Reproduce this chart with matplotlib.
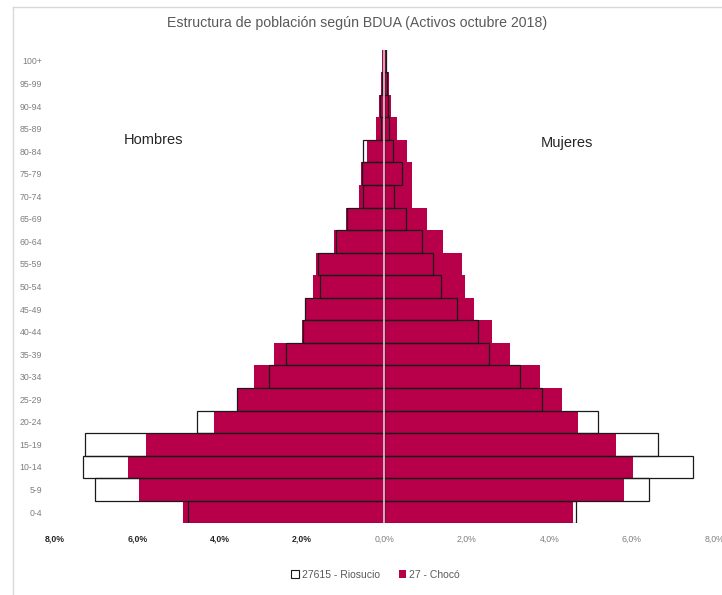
import numpy as np
import matplotlib
matplotlib.use('Agg')
import matplotlib.pyplot as plt
from matplotlib.patches import Patch
from matplotlib.lines import Line2D

plt.rcParams['font.family'] = ['Liberation Sans', 'DejaVu Sans']

# Datos (porcentaje de la poblacion)
grupos = ['0-4', '5-9', '10-14', '15-19', '20-24', '25-29', '30-34', '35-39', '40-44',
          '45-49', '50-54', '55-59', '60-64', '65-69', '70-74', '75-79', '80-84',
          '85-89', '90-94', '95-99', '100+']

choco_hombres = [4.89, 5.95, 6.22, 5.78, 4.13, 3.58, 3.16, 2.69, 2.01, 1.94, 1.73,
                 1.66, 1.23, 0.93, 0.61, 0.58, 0.43, 0.20, 0.13, 0.09, 0.06]
choco_mujeres = [4.58, 5.82, 6.03, 5.61, 4.69, 4.30, 3.77, 3.04, 2.60, 2.18, 1.95,
                 1.88, 1.42, 1.04, 0.66, 0.68, 0.55, 0.31, 0.15, 0.10, 0.06]
rio_hombres = [4.77, 7.02, 7.31, 7.26, 4.55, 3.59, 2.81, 2.40, 1.97, 1.92, 1.56,
               1.61, 1.18, 0.90, 0.53, 0.55, 0.53, 0.08, 0.11, 0.07, 0.04]
rio_mujeres = [4.65, 6.42, 7.49, 6.64, 5.19, 3.83, 3.30, 2.54, 2.26, 1.76, 1.37,
               1.17, 0.91, 0.52, 0.23, 0.42, 0.21, 0.10, 0.08, 0.06, 0.04]

ticks_x = [-8, -6, -4, -2, 0, 2, 4, 6, 8]
etiquetas_x = ['8,0%', '6,0%', '4,0%', '2,0%', '0,0%', '2,0%', '4,0%', '6,0%', '8,0%']

color_choco = '#B70049'
y = np.arange(len(grupos))

fig = plt.figure(figsize=(7.22, 5.95), dpi=100)
ax = fig.add_axes([0.076, 0.1205, 0.913, 0.796])

# Riosucio (fondo blanco)
ax.barh(y, -np.array(rio_hombres), height=1.0, color='white', edgecolor='none', zorder=1)
ax.barh(y, rio_mujeres, height=1.0, color='white', edgecolor='none', zorder=1)
# Choco
ax.barh(y, -np.array(choco_hombres), height=1.0, color=color_choco, edgecolor='none', zorder=2)
ax.barh(y, choco_mujeres, height=1.0, color=color_choco, edgecolor='none', zorder=2)
# Contorno de Riosucio encima
ax.barh(y, -np.array(rio_hombres), height=1.0, fill=False, edgecolor='#1a1a1a', linewidth=0.9, zorder=3)
ax.barh(y, rio_mujeres, height=1.0, fill=False, edgecolor='#1a1a1a', linewidth=0.9, zorder=3)

ax.axvline(0, color='#e6c8d4', linewidth=1.2, zorder=4)

ax.set_xlim(-8, 8)
ax.set_ylim(-0.5, len(grupos) - 0.5)
ax.set_xticks(ticks_x)
ax.set_xticklabels(etiquetas_x)
ax.set_yticks(y)
ax.set_yticklabels(grupos)
ax.tick_params(axis='both', length=0, labelsize=6.3, colors='#7f7f7f')
ax.tick_params(axis='x', pad=8)
ax.tick_params(axis='y', pad=9)
for i, lab in enumerate(ax.get_xticklabels()):
    if i < 4:
        lab.set_color('#262626')
        lab.set_fontweight('bold')
for s in ax.spines.values():
    s.set_visible(False)

fig.text(0.494, 0.962, 'Estructura de población según BDUA (Activos octubre 2018)',
         ha='center', va='center', fontsize=10.2, color='#595959')
fig.text(0.171, 0.765, 'Hombres', ha='left', va='center', fontsize=10.5, color='#262626')
fig.text(0.749, 0.760, 'Mujeres', ha='left', va='center', fontsize=10.5, color='#262626')

# borde del area del grafico
fig.add_artist(Line2D([0.018, 1.0], [0.988, 0.988], color='#d9d9d9', linewidth=1))
fig.add_artist(Line2D([0.018, 0.018], [0.0, 0.988], color='#d9d9d9', linewidth=1))

handles = [Patch(facecolor='white', edgecolor='#1a1a1a', linewidth=0.8, label='27615 - Riosucio'),
           Patch(facecolor=color_choco, edgecolor='none', label='27 - Chocó')]
fig.legend(handles=handles, loc='center', bbox_to_anchor=(0.52, 0.034), ncol=2, frameon=False,
           fontsize=7.5, handlelength=0.7, handleheight=0.7, handletextpad=0.3, columnspacing=1.8,
           labelcolor='#595959')

fig.savefig('out.png', dpi=100)
